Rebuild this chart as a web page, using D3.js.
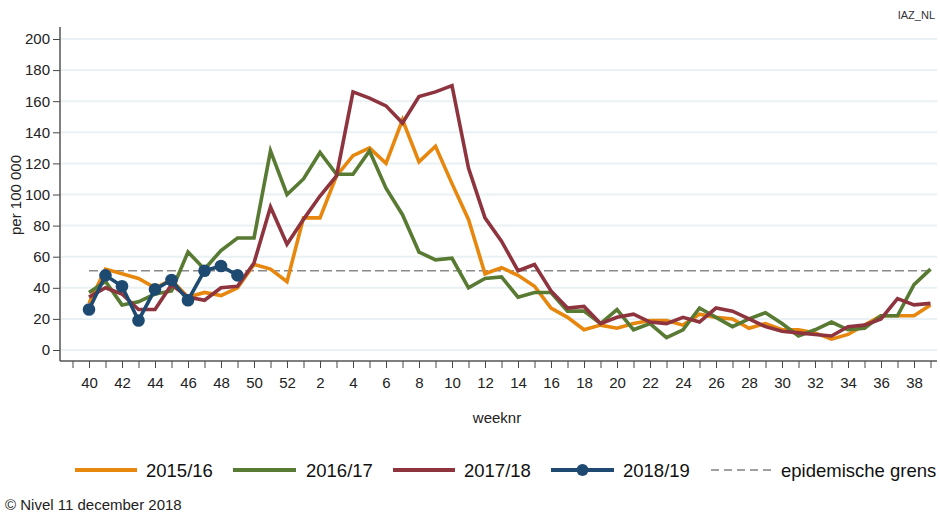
<!DOCTYPE html>
<html>
<head>
<meta charset="utf-8">
<script src="https://cdn.jsdelivr.net/npm/d3@7"></script>
<style>
  html, body { margin: 0; padding: 0; background: #fff; }
  svg { display: block; font-family: "Liberation Sans", Arial, sans-serif; }
</style>
</head>
<body>
<svg id="chart" width="940" height="512"></svg>
<script>
// ---- data ----
const weekLabels = [40,41,42,43,44,45,46,47,48,49,50,51,52,1,2,3,4,5,6,7,8,9,10,11,12,13,14,15,16,17,18,19,20,21,22,23,24,25,26,27,28,29,30,31,32,33,34,35,36,37,38,39];
const s2015 = [30,52,49,46,40,45,34,37,35,40,55,52,44,85,85,112,125,130,120,148,121,131,107,84,49,53,48,41,27,21,13,16,14,17,19,19,16,23,21,20,14,17,13,13,11,7,10,16,22,22,22,29];
const s2016 = [37,44,29,31,36,38,63,52,64,72,72,128,100,110,127,113,113,128,104,87,63,58,59,40,46,47,34,37,37,25,25,17,26,13,17,8,13,27,21,15,20,24,17,9,13,18,13,14,22,22,42,52];
const s2017 = [34,40,36,26,26,42,34,32,40,41,56,92,68,84,99,112,166,162,157,146,163,166,170,117,85,70,51,55,38,27,28,17,21,23,18,17,21,18,27,25,20,15,12,11,10,9,15,16,20,33,29,30];
const s2018 = [26,48,41,19,39,45,32,51,54,48];
const epidemicThreshold = 51;
const seriesNames = ["2015/16","2016/17","2017/18","2018/19"];
const seriesColors = ["#E8870E","#587A32","#8E343E","#1E4A72"];
const yTicks = [0,20,40,60,80,100,120,140,160,180,200];

// ---- layout ----
const svg = d3.select("#chart");
const x = d3.scaleLinear().domain([0, 51]).range([89, 930.5]);
const y = d3.scaleLinear().domain([0, 200]).range([350, 39]);
const axisLeftX = 60, axisBottomY = 361, plotRight = 937, plotTop = 27;

// gridlines
svg.append("g").selectAll("line").data(yTicks).join("line")
  .attr("x1", axisLeftX).attr("x2", plotRight)
  .attr("y1", d => y(d)).attr("y2", d => y(d))
  .attr("stroke", "#EAF1F4").attr("stroke-width", 2);

// epidemic threshold
svg.append("line")
  .attr("x1", x(0)).attr("x2", x(weekLabels.length - 1))
  .attr("y1", y(epidemicThreshold)).attr("y2", y(epidemicThreshold))
  .attr("stroke", "#8a8a8a").attr("stroke-width", 1.6)
  .attr("stroke-dasharray", "9,4");

// y axis
const yAxis = svg.append("g").attr("transform", `translate(${axisLeftX},0)`)
  .call(d3.axisLeft(y).tickValues(yTicks).tickSize(7).tickPadding(3));
yAxis.select(".domain").remove();
yAxis.selectAll(".tick line").attr("stroke", "#444");
yAxis.selectAll(".tick text").attr("font-size", 15).attr("fill", "#222")
  .attr("font-family", "Liberation Sans, Arial, sans-serif");

// x axis
const xTickIdx = d3.range(-1, weekLabels.length);
const xAxis = svg.append("g").attr("transform", `translate(0,${axisBottomY})`)
  .call(d3.axisBottom(x).tickValues(xTickIdx).tickSize(7).tickPadding(9)
    .tickFormat(i => (i >= 0 && weekLabels[i] % 2 === 0) ? String(weekLabels[i]) : ""));
xAxis.select(".domain").remove();
xAxis.selectAll(".tick line").attr("stroke", "#444");
xAxis.selectAll(".tick text").attr("font-size", 15).attr("fill", "#222")
  .attr("font-family", "Liberation Sans, Arial, sans-serif");

// axis lines
svg.append("line").attr("x1", axisLeftX).attr("x2", axisLeftX)
  .attr("y1", plotTop).attr("y2", axisBottomY).attr("stroke", "#555").attr("stroke-width", 1.5);
svg.append("line").attr("x1", axisLeftX).attr("x2", plotRight)
  .attr("y1", axisBottomY).attr("y2", axisBottomY).attr("stroke", "#555").attr("stroke-width", 1.5);

// lines
const line = d3.line().x((d, i) => x(i)).y(d => y(d));
[s2015, s2016, s2017, s2018].forEach((s, k) => {
  svg.append("path").datum(s)
    .attr("d", line).attr("fill", "none")
    .attr("stroke", seriesColors[k]).attr("stroke-width", 3.6)
    .attr("stroke-linejoin", "miter");
});
svg.append("g").selectAll("circle").data(s2018).join("circle")
  .attr("cx", (d, i) => x(i)).attr("cy", d => y(d)).attr("r", 6.3)
  .attr("fill", seriesColors[3]);

// axis titles
svg.append("text").attr("x", 497).attr("y", 423).attr("text-anchor", "middle")
  .attr("font-size", 15).attr("fill", "#222").text("weeknr");
svg.append("text").attr("transform", "translate(21,195) rotate(-90)")
  .attr("text-anchor", "middle").attr("font-size", 15).attr("fill", "#222").text("per 100 000");
svg.append("text").attr("x", 935).attr("y", 19).attr("text-anchor", "end")
  .attr("font-size", 11).attr("fill", "#333").text("IAZ_NL");

// legend
const legY = 470;
const legItems = [
  {x0: 75, x1: 137, tx: 146, color: seriesColors[0], label: seriesNames[0]},
  {x0: 233, x1: 296, tx: 306, color: seriesColors[1], label: seriesNames[1]},
  {x0: 393, x1: 455, tx: 464, color: seriesColors[2], label: seriesNames[2]},
  {x0: 551, x1: 614, tx: 623, color: seriesColors[3], label: seriesNames[3], dot: true},
  {x0: 711, x1: 771, tx: 781, color: "#a0a0a0", label: "epidemische grens", dash: true}
];
const lg = svg.append("g");
legItems.forEach(it => {
  const l = lg.append("line").attr("x1", it.x0).attr("x2", it.x1)
    .attr("y1", legY).attr("y2", legY).attr("stroke", it.color)
    .attr("stroke-width", it.dash ? 2 : 4);
  if (it.dash) l.attr("stroke-dasharray", "8,5");
  if (it.dot) lg.append("circle").attr("cx", (it.x0 + it.x1) / 2).attr("cy", legY).attr("r", 6).attr("fill", it.color);
  lg.append("text").attr("x", it.tx).attr("y", legY + 6.5).attr("font-size", 18.5)
    .attr("fill", "#111").text(it.label);
});

svg.append("text").attr("x", 5).attr("y", 510).attr("font-size", 15)
  .attr("fill", "#222").text("© Nivel 11 december 2018");
</script>
</body>
</html>
